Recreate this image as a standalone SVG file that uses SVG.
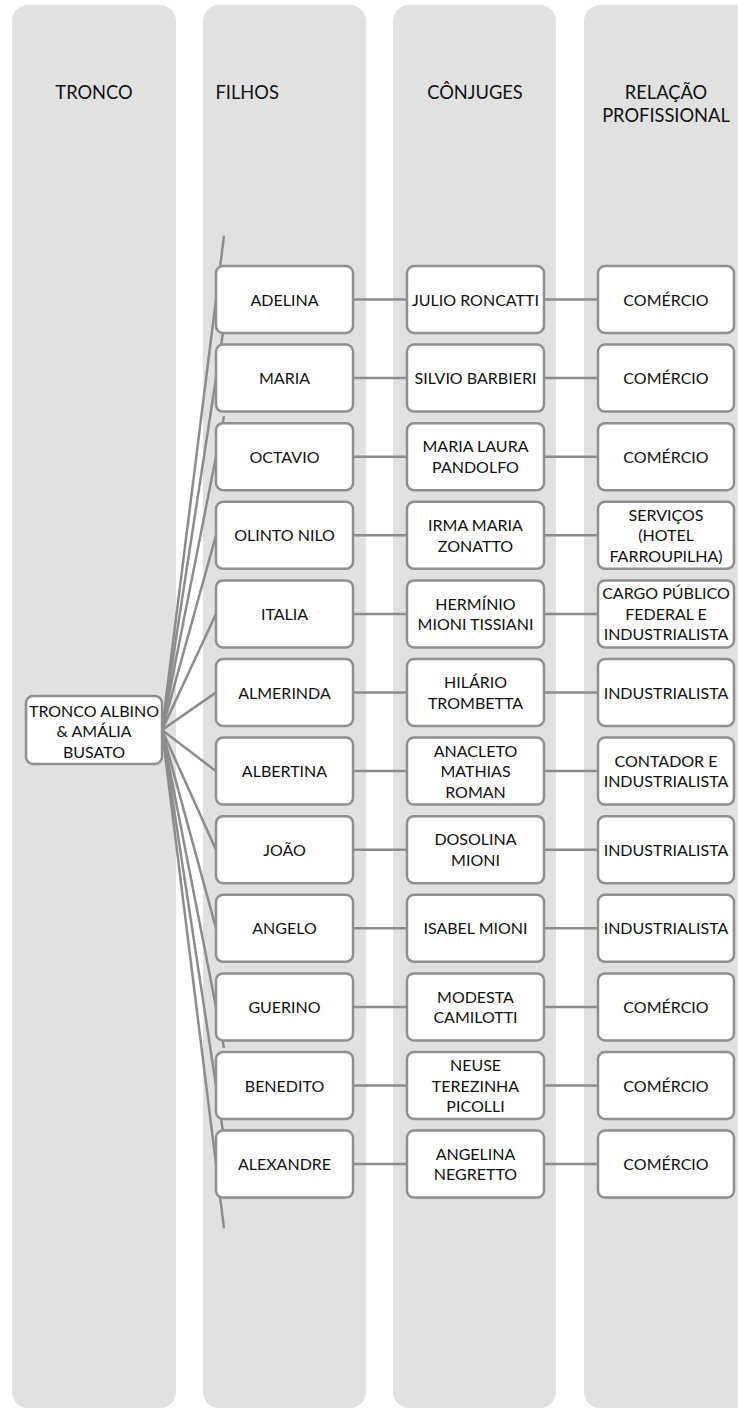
<svg xmlns="http://www.w3.org/2000/svg" width="738" height="1409" viewBox="0 0 738 1409">
<style>
.lane{fill:#E1E1E1}
.box{fill:#FFFFFF;stroke:#8F8F8F;stroke-width:2.5}
.con{stroke:#8C8C8C;stroke-width:2.5;fill:none}
.t{font-family:Lato,"Liberation Sans",sans-serif;font-size:16px;fill:#111;text-anchor:middle}
.h{font-family:Lato,"Liberation Sans",sans-serif;font-size:18.3px;fill:#111;text-anchor:middle}
</style>
<g id="lanes">
<rect class="lane" x="12" y="5" width="164" height="1403" rx="16"/>
<rect class="lane" x="203" y="5" width="163" height="1403" rx="16"/>
<rect class="lane" x="393" y="5" width="163" height="1403" rx="16"/>
<rect class="lane" x="584" y="5" width="170" height="1403" rx="16"/>
<text class="h" x="94" y="98.5">TRONCO</text>
<text class="h" x="215.5" y="98.5" style="text-anchor:start">FILHOS</text>
<text class="h" x="475" y="98.5">CÔNJUGES</text>
<text class="h" x="666" y="98.5">RELAÇÃO</text>
<text class="h" x="666" y="122">PROFISSIONAL</text>
</g>
<g id="connectors">
<line class="con" x1="162" y1="730" x2="224" y2="235.7"/>
<line class="con" x1="162" y1="730" x2="224" y2="326"/>
<line class="con" x1="162" y1="730" x2="224" y2="416.2"/>
<line class="con" x1="162" y1="730" x2="224" y2="506.5"/>
<line class="con" x1="162" y1="730" x2="224" y2="596.7"/>
<line class="con" x1="162" y1="730" x2="224" y2="686.9"/>
<line class="con" x1="162" y1="730" x2="224" y2="777.2"/>
<line class="con" x1="162" y1="730" x2="224" y2="867.4"/>
<line class="con" x1="162" y1="730" x2="224" y2="957.7"/>
<line class="con" x1="162" y1="730" x2="224" y2="1047.9"/>
<line class="con" x1="162" y1="730" x2="224" y2="1138.2"/>
<line class="con" x1="162" y1="730" x2="224" y2="1228.4"/>
<path class="con" d="M353 299.5H407M544 299.5H598M353 378.1H407M544 378.1H598M353 456.7H407M544 456.7H598M353 535.3H407M544 535.3H598M353 613.9H407M544 613.9H598M353 692.5H407M544 692.5H598M353 771.1H407M544 771.1H598M353 849.7H407M544 849.7H598M353 928.3H407M544 928.3H598M353 1006.9H407M544 1006.9H598M353 1085.5H407M544 1085.5H598M353 1164.1H407M544 1164.1H598"/>
</g>
<g id="tronco">
<rect class="box" x="26" y="696" width="136" height="68" rx="7"/>
<text class="t" x="94" y="716.5">TRONCO ALBINO</text>
<text class="t" x="94" y="737">&amp; AMÁLIA</text>
<text class="t" x="94" y="757.5">BUSATO</text>
</g>
<g id="filho-adelina"><rect class="box" x="216" y="266" width="137" height="67" rx="7"/><text class="t" x="284.5" y="305.5">ADELINA</text></g>
<g id="filho-maria"><rect class="box" x="216" y="344.6" width="137" height="67" rx="7"/><text class="t" x="284.5" y="384.1">MARIA</text></g>
<g id="filho-octavio"><rect class="box" x="216" y="423.2" width="137" height="67" rx="7"/><text class="t" x="284.5" y="462.7">OCTAVIO</text></g>
<g id="filho-olinto"><rect class="box" x="216" y="501.8" width="137" height="67" rx="7"/><text class="t" x="284.5" y="541.3">OLINTO NILO</text></g>
<g id="filho-italia"><rect class="box" x="216" y="580.4" width="137" height="67" rx="7"/><text class="t" x="284.5" y="619.9">ITALIA</text></g>
<g id="filho-almerinda"><rect class="box" x="216" y="659" width="137" height="67" rx="7"/><text class="t" x="284.5" y="698.5">ALMERINDA</text></g>
<g id="filho-albertina"><rect class="box" x="216" y="737.6" width="137" height="67" rx="7"/><text class="t" x="284.5" y="777.1">ALBERTINA</text></g>
<g id="filho-joao"><rect class="box" x="216" y="816.2" width="137" height="67" rx="7"/><text class="t" x="284.5" y="855.7">JOÃO</text></g>
<g id="filho-angelo"><rect class="box" x="216" y="894.8" width="137" height="67" rx="7"/><text class="t" x="284.5" y="934.3">ANGELO</text></g>
<g id="filho-guerino"><rect class="box" x="216" y="973.4" width="137" height="67" rx="7"/><text class="t" x="284.5" y="1012.9">GUERINO</text></g>
<g id="filho-benedito"><rect class="box" x="216" y="1052" width="137" height="67" rx="7"/><text class="t" x="284.5" y="1091.5">BENEDITO</text></g>
<g id="filho-alexandre"><rect class="box" x="216" y="1130.6" width="137" height="67" rx="7"/><text class="t" x="284.5" y="1170.1">ALEXANDRE</text></g>

<g id="conjuge-julio"><rect class="box" x="407" y="266" width="137" height="67" rx="7"/><text class="t" x="475.5" y="305.5">JULIO RONCATTI</text></g>
<g id="conjuge-silvio"><rect class="box" x="407" y="344.6" width="137" height="67" rx="7"/><text class="t" x="475.5" y="384.1">SILVIO BARBIERI</text></g>
<g id="conjuge-maria-laura"><rect class="box" x="407" y="423.2" width="137" height="67" rx="7"/><text class="t" x="475.5" y="452.45">MARIA LAURA</text><text class="t" x="475.5" y="472.95">PANDOLFO</text></g>
<g id="conjuge-irma"><rect class="box" x="407" y="501.8" width="137" height="67" rx="7"/><text class="t" x="475.5" y="531.05">IRMA MARIA</text><text class="t" x="475.5" y="551.55">ZONATTO</text></g>
<g id="conjuge-herminio"><rect class="box" x="407" y="580.4" width="137" height="67" rx="7"/><text class="t" x="475.5" y="609.65">HERMÍNIO</text><text class="t" x="475.5" y="630.15">MIONI TISSIANI</text></g>
<g id="conjuge-hilario"><rect class="box" x="407" y="659" width="137" height="67" rx="7"/><text class="t" x="475.5" y="688.25">HILÁRIO</text><text class="t" x="475.5" y="708.75">TROMBETTA</text></g>
<g id="conjuge-anacleto"><rect class="box" x="407" y="737.6" width="137" height="67" rx="7"/><text class="t" x="475.5" y="756.6">ANACLETO</text><text class="t" x="475.5" y="777.1">MATHIAS</text><text class="t" x="475.5" y="797.6">ROMAN</text></g>
<g id="conjuge-dosolina"><rect class="box" x="407" y="816.2" width="137" height="67" rx="7"/><text class="t" x="475.5" y="845.45">DOSOLINA</text><text class="t" x="475.5" y="865.95">MIONI</text></g>
<g id="conjuge-isabel"><rect class="box" x="407" y="894.8" width="137" height="67" rx="7"/><text class="t" x="475.5" y="934.3">ISABEL MIONI</text></g>
<g id="conjuge-modesta"><rect class="box" x="407" y="973.4" width="137" height="67" rx="7"/><text class="t" x="475.5" y="1002.65">MODESTA</text><text class="t" x="475.5" y="1023.15">CAMILOTTI</text></g>
<g id="conjuge-neuse"><rect class="box" x="407" y="1052" width="137" height="67" rx="7"/><text class="t" x="475.5" y="1071">NEUSE</text><text class="t" x="475.5" y="1091.5">TEREZINHA</text><text class="t" x="475.5" y="1112">PICOLLI</text></g>
<g id="conjuge-angelina"><rect class="box" x="407" y="1130.6" width="137" height="67" rx="7"/><text class="t" x="475.5" y="1159.85">ANGELINA</text><text class="t" x="475.5" y="1180.35">NEGRETTO</text></g>

<g id="prof-1"><rect class="box" x="598" y="266" width="136" height="67" rx="7"/><text class="t" x="666" y="305.5">COMÉRCIO</text></g>
<g id="prof-2"><rect class="box" x="598" y="344.6" width="136" height="67" rx="7"/><text class="t" x="666" y="384.1">COMÉRCIO</text></g>
<g id="prof-3"><rect class="box" x="598" y="423.2" width="136" height="67" rx="7"/><text class="t" x="666" y="462.7">COMÉRCIO</text></g>
<g id="prof-4"><rect class="box" x="598" y="501.8" width="136" height="67" rx="7"/><text class="t" x="666" y="520.8">SERVIÇOS</text><text class="t" x="666" y="541.3">(HOTEL</text><text class="t" x="666" y="561.8">FARROUPILHA)</text></g>
<g id="prof-5"><rect class="box" x="598" y="580.4" width="136" height="67" rx="7"/><text class="t" x="666" y="599.4">CARGO PÚBLICO</text><text class="t" x="666" y="619.9">FEDERAL E</text><text class="t" x="666" y="640.4">INDUSTRIALISTA</text></g>
<g id="prof-6"><rect class="box" x="598" y="659" width="136" height="67" rx="7"/><text class="t" x="666" y="698.5">INDUSTRIALISTA</text></g>
<g id="prof-7"><rect class="box" x="598" y="737.6" width="136" height="67" rx="7"/><text class="t" x="666" y="766.85">CONTADOR E</text><text class="t" x="666" y="787.35">INDUSTRIALISTA</text></g>
<g id="prof-8"><rect class="box" x="598" y="816.2" width="136" height="67" rx="7"/><text class="t" x="666" y="855.7">INDUSTRIALISTA</text></g>
<g id="prof-9"><rect class="box" x="598" y="894.8" width="136" height="67" rx="7"/><text class="t" x="666" y="934.3">INDUSTRIALISTA</text></g>
<g id="prof-10"><rect class="box" x="598" y="973.4" width="136" height="67" rx="7"/><text class="t" x="666" y="1012.9">COMÉRCIO</text></g>
<g id="prof-11"><rect class="box" x="598" y="1052" width="136" height="67" rx="7"/><text class="t" x="666" y="1091.5">COMÉRCIO</text></g>
<g id="prof-12"><rect class="box" x="598" y="1130.6" width="136" height="67" rx="7"/><text class="t" x="666" y="1170.1">COMÉRCIO</text></g>
</svg>
